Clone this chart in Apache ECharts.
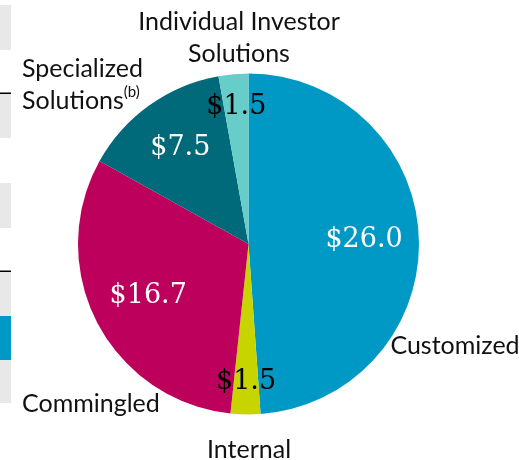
<!DOCTYPE html>
<html>
<head>
<meta charset="utf-8">
<script src="https://cdn.jsdelivr.net/npm/echarts@6/dist/echarts.min.js"></script>
<style>
html,body{margin:0;padding:0;background:#fff;}
#chart{width:519px;height:460px;}
</style>
</head>
<body>
<div id="chart"></div>
<script>
// ---- data ----
const categories = ['Customized', 'Internal', 'Commingled', 'Specialized\nSolutions{sup|(b)}', 'Individual Investor\nSolutions'];
const values = [26.0, 1.5, 16.7, 7.5, 1.5];

// ---- style config ----
const sliceColors = ['#0099c5', '#c8d400', '#bc005b', '#00697a', '#66cdc9'];
const valueTextColors = ['#ffffff', '#000000', '#ffffff', '#ffffff', '#000000'];
const valueRadiusFactor = [1.31, 1.56, 1.28, 1.33, 1.56];
const outerLabelPos = [
  {x: 455, y: 346, align: 'center'},
  {x: 249, y: 450, align: 'center'},
  {x: 22, y: 404, align: 'left'},
  {x: 22, y: 85, align: 'left'},
  {x: 239, y: 38, align: 'center'}
];
const CX = 248.5, CY = 244, R = 170.5;

const chart = echarts.init(document.getElementById('chart'), null, {renderer: 'canvas'});

const mainData = categories.map((c, i) => ({
  name: c,
  value: values[i],
  itemStyle: {color: sliceColors[i]},
  label: {color: valueTextColors[i]}
}));
const overlayData = categories.map((c, i) => ({name: c, value: values[i]}));

const option = {
  animation: false,
  backgroundColor: '#ffffff',
  graphic: [
    {type: 'rect', shape: {x: 0, y: 5, width: 11, height: 45}, style: {fill: '#e8e8e8'}},
    {type: 'rect', shape: {x: 0, y: 94, width: 11, height: 44}, style: {fill: '#e8e8e8'}},
    {type: 'rect', shape: {x: 0, y: 92.5, width: 11, height: 1.5}, style: {fill: '#000000'}},
    {type: 'rect', shape: {x: 0, y: 183, width: 11, height: 45}, style: {fill: '#e8e8e8'}},
    {type: 'rect', shape: {x: 0, y: 272, width: 11, height: 44}, style: {fill: '#e8e8e8'}},
    {type: 'rect', shape: {x: 0, y: 270.5, width: 11, height: 1.5}, style: {fill: '#000000'}},
    {type: 'rect', shape: {x: 0, y: 316, width: 11, height: 44}, style: {fill: '#0099c5'}},
    {type: 'rect', shape: {x: 0, y: 360, width: 11, height: 43}, style: {fill: '#e8e8e8'}}
  ],
  series: [
    {
      type: 'pie',
      center: [CX, CY],
      radius: [0, R],
      startAngle: 90,
      clockwise: true,
      silent: true,
      data: mainData,
      itemStyle: {borderWidth: 0},
      label: {
        show: true,
        position: 'inside',
        fontFamily: 'DejaVu Serif',
        fontSize: 27,
        formatter: p => '$' + p.value.toFixed(1)
      },
      labelLine: {show: false},
      labelLayout: function (params) {
        const r = params.labelRect;
        const lx = r.x + r.width / 2, ly = r.y + r.height / 2;
        const k = valueRadiusFactor[params.dataIndex];
        return {x: CX + (lx - CX) * k, y: CY + (ly - CY) * k, align: 'center', verticalAlign: 'middle'};
      }
    },
    {
      type: 'pie',
      center: [CX, CY],
      radius: [0, R],
      startAngle: 90,
      clockwise: true,
      silent: true,
      data: overlayData,
      itemStyle: {color: 'rgba(0,0,0,0)'},
      label: {
        show: true,
        position: 'outside',
        overflow: 'none',
        width: 300,
        fontFamily: 'Lato',
        fontSize: 25,
        lineHeight: 32,
        color: '#111111',
        formatter: '{b}',
        rich: {
          sup: {fontFamily: 'Lato', fontSize: 15, color: '#111111', verticalAlign: 'top', lineHeight: 32, padding: [0, 0, 10, 0]}
        }
      },
      labelLine: {show: false},
      labelLayout: function (params) {
        const p = outerLabelPos[params.dataIndex];
        return {x: p.x, y: p.y, align: p.align, verticalAlign: 'middle'};
      }
    }
  ]
};
chart.setOption(option);
</script>
</body>
</html>
